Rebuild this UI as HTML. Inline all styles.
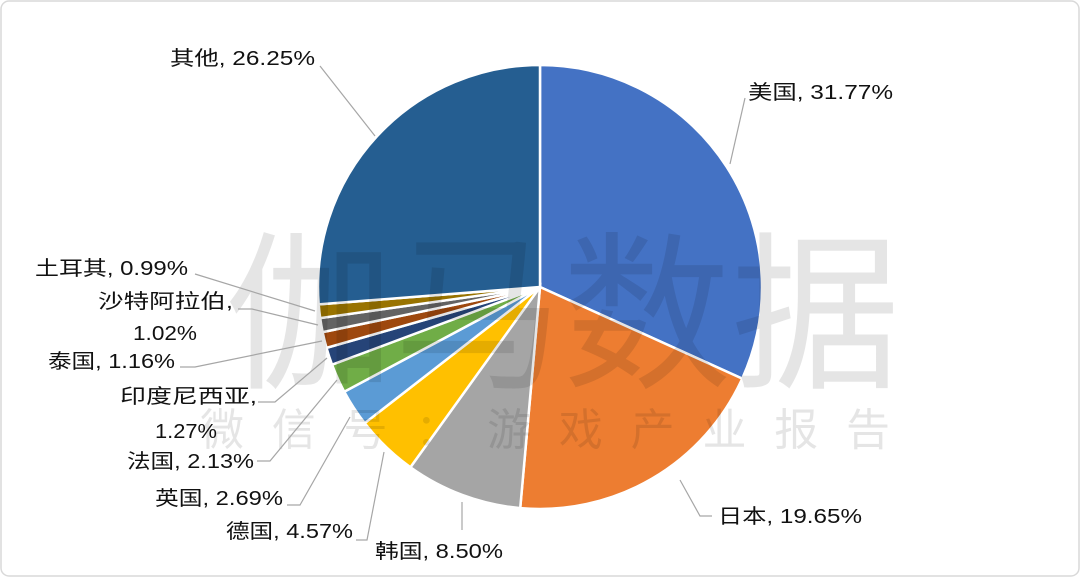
<!DOCTYPE html>
<html><head><meta charset="utf-8"><style>
body{margin:0;background:#fff;}
svg{display:block;font-family:"Liberation Sans","Noto Sans CJK SC",sans-serif;}
</style></head><body>
<svg id="s" width="1080" height="577" viewBox="0 0 1080 577">
<rect x="1" y="1" width="1078" height="575" rx="8" fill="#fff" stroke="#d9d9d9" stroke-width="1.5"/>
<g id="pie"></g>
<text x="225" y="375" font-size="170" fill="#000" fill-opacity="0.1" textLength="675" lengthAdjust="spacingAndGlyphs">伽马数据</text>
<text x="200" y="445" font-size="44" fill="#000" fill-opacity="0.1" textLength="690">微信号：游戏产业报告</text>
<g stroke="#a6a6a6" stroke-width="1.2" fill="none">
<polyline points="320,66 375,136"/>
<polyline points="745,98 730,164"/>
<polyline points="712,516 700,516 680,480"/>
<polyline points="462,530 462,502"/>
<polyline points="356,540 367,540 384,452"/>
<polyline points="287,505 300,505 350,417"/>
<polyline points="257,461 270,461 337,380"/>
<polyline points="258,402 275,402 327,358"/>
<polyline points="180,367 195,367 322,341"/>
<polyline points="238,309 252,309 318,325"/>
<polyline points="195,274 315,311"/>
</g>
<g font-size="20" fill="#111">
<text x="170" y="65" textLength="145" lengthAdjust="spacingAndGlyphs">其他, 26.25%</text>
<text x="748" y="99" textLength="145" lengthAdjust="spacingAndGlyphs">美国, 31.77%</text>
<text x="718" y="523" textLength="144" lengthAdjust="spacingAndGlyphs">日本, 19.65%</text>
<text x="375" y="558" textLength="128" lengthAdjust="spacingAndGlyphs">韩国, 8.50%</text>
<text x="226" y="538" textLength="127" lengthAdjust="spacingAndGlyphs">德国, 4.57%</text>
<text x="155" y="505" textLength="128" lengthAdjust="spacingAndGlyphs">英国, 2.69%</text>
<text x="127" y="468" textLength="127" lengthAdjust="spacingAndGlyphs">法国, 2.13%</text>
<text x="120" y="403" textLength="137" lengthAdjust="spacingAndGlyphs">印度尼西亚,</text>
<text x="155" y="438" textLength="62" lengthAdjust="spacingAndGlyphs">1.27%</text>
<text x="48" y="368" textLength="127" lengthAdjust="spacingAndGlyphs">泰国, 1.16%</text>
<text x="98" y="308" textLength="135" lengthAdjust="spacingAndGlyphs">沙特阿拉伯,</text>
<text x="133" y="340" textLength="64" lengthAdjust="spacingAndGlyphs">1.02%</text>
<text x="35" y="275" textLength="153" lengthAdjust="spacingAndGlyphs">土耳其, 0.99%</text>
</g>
</svg>
<script>
var d=[[31.77,"#4472C4"],[19.65,"#ED7D31"],[8.50,"#A5A5A5"],[4.57,"#FFC000"],[2.69,"#5B9BD5"],[2.13,"#70AD47"],[1.27,"#264478"],[1.16,"#9E480E"],[1.02,"#636363"],[0.99,"#997300"],[26.25,"#255E91"]];
var tot=0;d.forEach(function(x){tot+=x[0]});
var cx=540,cy=287,r=222,a=0,h="";
d.forEach(function(x){var b=a+x[0]/tot*2*Math.PI;
var x1=cx+r*Math.sin(a),y1=cy-r*Math.cos(a),x2=cx+r*Math.sin(b),y2=cy-r*Math.cos(b);
h+='<path d="M'+cx+','+cy+'L'+x1+','+y1+'A'+r+','+r+' 0 '+(b-a>Math.PI?1:0)+' 1 '+x2+','+y2+'Z" fill="'+x[1]+'" stroke="#fff" stroke-width="2.5"/>';a=b;});
document.getElementById("pie").innerHTML=h;
</script>
</body></html>
